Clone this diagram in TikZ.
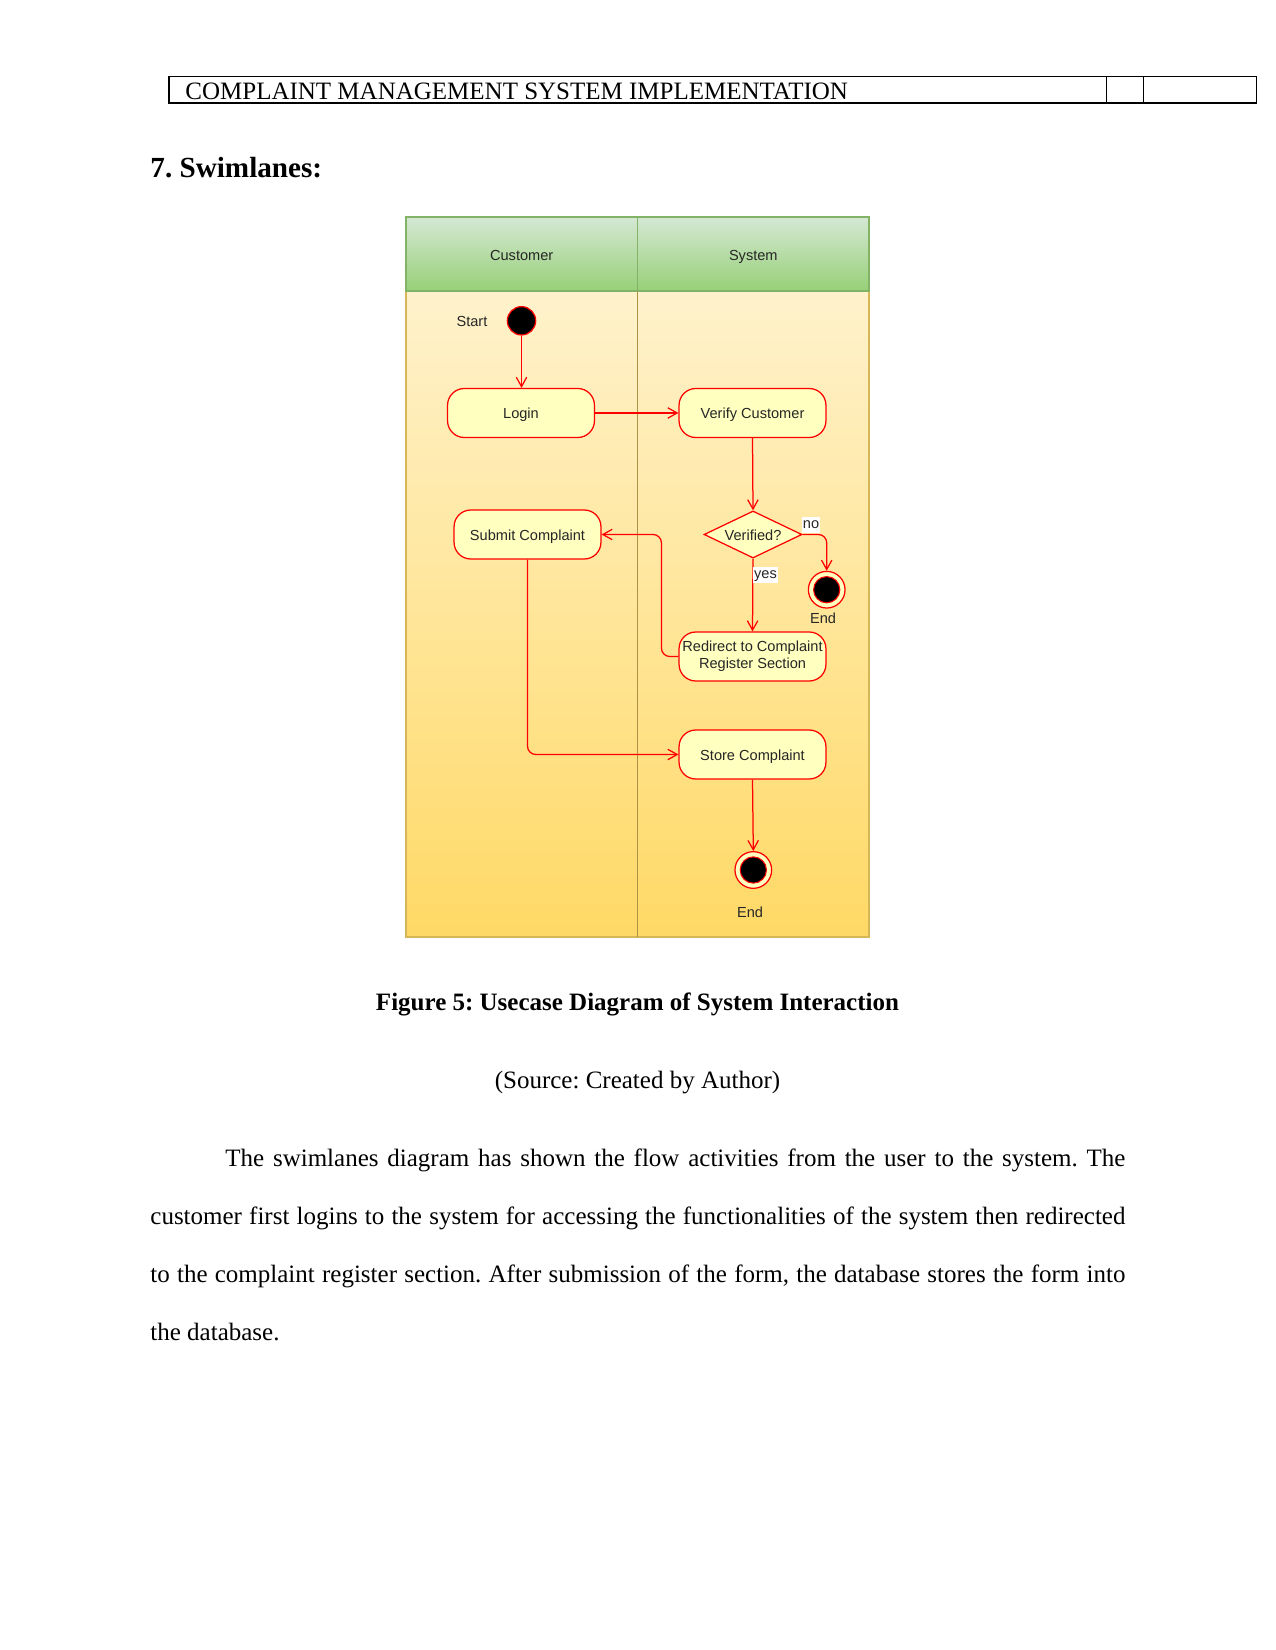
\documentclass[tikz,border=0pt]{standalone}
\usepackage{fontspec}
\setmainfont{Liberation Serif}
\newfontfamily\diagfont{Liberation Sans}
\usetikzlibrary{shapes.geometric,arrows.meta}
\frenchspacing
\definecolor{nodefill}{HTML}{FFFFC0}
\definecolor{nodered}{HTML}{FF0000}
\definecolor{diagtext}{HTML}{262626}
\definecolor{hdtop}{HTML}{D5E8D4}
\definecolor{hdbot}{HTML}{97D077}
\definecolor{hdline}{HTML}{82B366}
\definecolor{bdtop}{HTML}{FFF2CC}
\definecolor{bdbot}{HTML}{FFD966}
\definecolor{bdline}{HTML}{D6B656}
\tikzset{
  dfont/.style={font=\diagfont\fontsize{7}{8.2}\selectfont, text=diagtext,
    text height=6.5pt, text depth=1.0pt},
  act/.style={dfont, draw=nodered, fill=nodefill, rounded corners=8pt,
    minimum width=70.5pt, minimum height=23.5pt, line width=0.6pt,
    align=center, inner sep=1pt},
  decis/.style={dfont, diamond, draw=nodered, fill=nodefill, line width=0.6pt,
    minimum width=47pt, minimum height=22.6pt, aspect=2.08, inner sep=0pt},
  startst/.style={circle, draw=nodered, fill=black, line width=0.6pt,
    minimum size=13.6pt, inner sep=0pt},
  endst/.style={circle, draw=nodered, fill=nodefill, line width=0.6pt,
    minimum size=17.6pt, inner sep=0pt,
    path picture={\fill[black, draw=nodered, line width=0.5pt]
      (path picture bounding box.center) circle (6.3pt);}},
  flow/.style={draw=nodered, line width=0.6pt,
    -{Straight Barb[length=4.5pt,width=5pt]}, rounded corners=4pt},
  lbl/.style={dfont, inner sep=0.5pt, text height=5.1pt, text depth=1.5pt},
  serifnode/.style={font=\fontsize{12}{13.8}\selectfont, inner sep=0pt}
}
\begin{document}
\begin{tikzpicture}[x=0.48pt,y=-0.48pt]
\useasboundingbox[fill=white] (0,0) rectangle (1275,1650);

% page header table
\draw[line width=0.6pt] (169,76.3) rectangle (1256.3,103);
\draw[line width=0.6pt] (1106.7,76.3) -- (1106.7,103);
\draw[line width=0.6pt] (1143.3,76.3) -- (1143.3,103);
\node[serifnode, anchor=base west] (hdr) at (185,100) {COMPLAINT MANAGEMENT SYSTEM IMPLEMENTATION};

% heading
\node[font=\bfseries\fontsize{14}{16}\selectfont, inner sep=0pt, anchor=base west] (head) at (150,178) {7. Swimlanes:};

% swimlanes
\shade[top color=bdtop, bottom color=bdbot] (406,291) rectangle (869,937);
\draw[bdline, line width=0.6pt] (406,291) rectangle (869,937);
\shade[top color=hdtop, bottom color=hdbot] (406,217) rectangle (869,291);
\draw[hdline, line width=0.6pt] (406,217) rectangle (869,291);
\draw[hdline, line width=0.6pt] (637.5,217) -- (637.5,291);
\draw[bdline!80!black, line width=0.5pt] (637.5,291) -- (637.5,937);
\node[dfont] (lane1) at (521.7,254.3) {Customer};
\node[dfont] (lane2) at (753.3,254.3) {System};

% nodes
\node[startst] (start) at (521.5,320.8) {};
\node[dfont] (startlbl) at (472,321) {Start};
\node[act] (login) at (521,413) {Login};
\node[act] (verify) at (752.5,413) {Verify Customer};
\node[decis] (verified) at (753,534.5) {Verified?};
\node[act] (submit) at (527.5,534.5) {Submit Complaint};
\node[endst] (end1) at (826.7,589.7) {};
\node[dfont] (end1lbl) at (823,618) {End};
\node[act, inner sep=0pt, text height=, text depth=] (redirect) at (752.5,656.5) {Redirect to Complaint\\Register Section};
\node[act] (store) at (752.5,754.5) {Store Complaint};
\node[endst] (end2) at (753.3,870) {};
\node[dfont] (end2lbl) at (750,912) {End};

% connectors
\draw[flow] (start.south) -- (start.south |- login.north);
\draw[flow] (login.east) -- (verify.west);
\draw[flow] (verify.south) -- (verified.north);
\draw[flow] (verified.east) -| (end1.north);
\draw[flow] (verified.south) -- (redirect.north);
\draw[flow] (redirect.west) -- ++(-17,0) |- (submit.east);
\draw[flow] (submit.south) |- (store.west);
\draw[flow] (store.south) -- (end2.north);

\node[lbl, fill=white] (nolbl) at (811,525) {no};
\node[lbl, fill=white] (yeslbl) at (765.5,575) {yes};

% caption
\node[serifnode, font=\bfseries\fontsize{12}{13.8}\selectfont, anchor=base] (cap) at (637.5,1010) {Figure 5: Usecase Diagram of System Interaction};
\node[serifnode, anchor=base] (src) at (637.5,1088) {(Source: Created by Author)};

% paragraph
\node[serifnode, anchor=base west, text width=468pt, align=justify] (para) at (150,1166) {%
\setlength{\parindent}{36pt}\setlength{\baselineskip}{27.84pt}\indent
The swimlanes diagram has shown the flow activities from the user to the system. The\linebreak
customer first logins to the system for accessing the functionalities of the system then redirected\linebreak
to the complaint register section. After submission of the form, the database stores the form into\linebreak
the database.\par};
\end{tikzpicture}
\end{document}
